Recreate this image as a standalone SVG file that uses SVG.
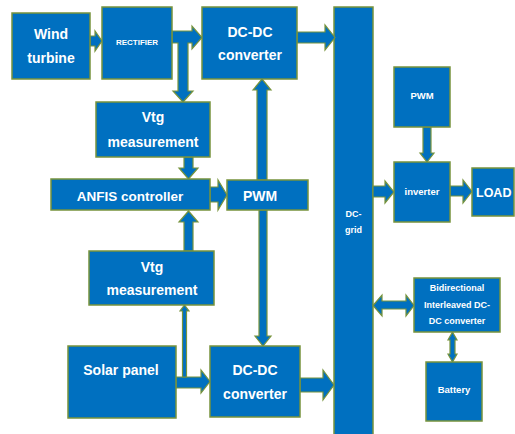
<svg xmlns="http://www.w3.org/2000/svg" width="515" height="434" viewBox="0 0 515 434">
<style>
.b{fill:#0070C0;stroke:#77933C;stroke-width:1.5}
.a{fill:#0070C0;stroke:#77933C;stroke-width:1.2;stroke-linejoin:miter}
text{fill:#fff;font-family:"Liberation Sans",Arial,sans-serif;font-weight:bold;text-anchor:middle}
.l{font-size:14px}
.s{font-size:9px}
</style>
<rect width="515" height="434" fill="#fff"/>
<g id="dc-grid"><rect class="b" x="334" y="7" width="39" height="440"/><text class="s" x="353.5" y="217">DC-</text><text class="s" x="353.5" y="233">grid</text></g>
<g id="connectors">
<polygon class="a" points="90,36 95,36 95,31 102,41 95,51 95,46 90,46"/>
<polygon class="a" points="172,31 192,31 192,26 202,37.5 192,49 192,43 188,43 188,91 193,91 183,102 173,91 178,91 178,43 172,43"/>
<polygon class="a" points="184,157 193,157 193,168 198,168 188.5,179 179,168 184,168"/>
<polygon class="a" points="210,187 218,187 218,180 227,195 218,210 218,202 210,202"/>
<polygon class="a" points="257,180 257,90 253,90 262,79 271,90 267,90 267,180"/>
<polygon class="a" points="259,210 267,210 267,336 271,336 263,346 255,336 259,336"/>
<polygon class="a" points="184,251 184,222 179,222 188.5,211 198,222 193,222 193,251"/>
<polygon class="a" points="176,377 201,377 201,370 210,381.5 201,393 201,388 176,388"/>
<polygon class="a" points="182.5,377 182.5,311 180,311 184.5,305 189,311 186.5,311 186.5,377"/>
<polygon class="a" points="300,378 323,378 323,370 334,385 323,400 323,392 300,392"/>
<polygon class="a" points="297,32 325,32 325,25 335,37.5 325,50 325,43 297,43"/>
<polygon class="a" points="373,186 385,186 385,181 394,192 385,203 385,197 373,197"/>
<polygon class="a" points="450,186 463,186 463,180 472,191.5 463,203 463,196 450,196"/>
<polygon class="a" points="423,127 431,127 431,153 434,153 427,162 420,153 423,153"/>
<polygon class="a" points="373,305.5 382,295 382,301 406,301 406,295 414,305.5 406,316 406,309 382,309 382,316"/>
<polygon class="a" points="452.5,332 457,340 455,340 455,354 457,354 452.5,362 448,354 450,354 450,340 448,340"/>
</g>
<g id="wind-turbine"><rect class="b" x="12" y="13" width="78" height="66"/><text class="l" x="51" y="39">Wind</text><text class="l" x="51" y="63">turbine</text></g>
<g id="rectifier"><rect class="b" x="102" y="7" width="70" height="72"/><text style="font-size:8px" x="137" y="45">RECTIFIER</text></g>
<g id="dcdc-top"><rect class="b" x="202" y="7" width="95" height="72"/><text class="l" x="250" y="37">DC-DC</text><text class="l" x="250" y="60">converter</text></g>
<g id="vtg-top"><rect class="b" x="96" y="102" width="114" height="55"/><text class="l" x="153" y="122">Vtg</text><text class="l" x="153" y="147">measurement</text></g>
<g id="anfis"><rect class="b" x="51" y="179" width="159" height="31"/><text style="font-size:13.5px" x="130" y="201">ANFIS  controller</text></g>
<g id="pwm-mid"><rect class="b" x="227" y="180" width="81" height="30"/><text class="l" x="260" y="201">PWM</text></g>
<g id="vtg-bottom"><rect class="b" x="89" y="251" width="125" height="54"/><text class="l" x="152" y="272">Vtg</text><text class="l" x="152" y="295">measurement</text></g>
<g id="solar"><rect class="b" x="68" y="346" width="108" height="72"/><text class="l" x="121" y="375">Solar panel</text></g>
<g id="dcdc-bottom"><rect class="b" x="210" y="346" width="90" height="71"/><text class="l" x="255" y="375">DC-DC</text><text class="l" x="255" y="399">converter</text></g>
<g id="pwm-right"><rect class="b" x="394" y="67" width="56" height="60"/><text style="font-size:9.5px" x="422" y="99">PWM</text></g>
<g id="inverter"><rect class="b" x="394" y="162" width="56" height="60"/><text style="font-size:9.5px" x="422" y="195">inverter</text></g>
<g id="load"><rect class="b" x="472" y="168" width="42" height="48"/><text style="font-size:12.5px;text-anchor:start" x="476" y="197">LOAD</text></g>
<g id="bidirectional"><rect class="b" x="414" y="278" width="86" height="54"/><text class="s" x="457" y="291">Bidirectional</text><text class="s" x="457" y="308">Interleaved DC-</text><text class="s" x="457" y="324">DC converter</text></g>
<g id="battery"><rect class="b" x="426" y="362" width="56" height="59"/><text style="font-size:9.5px" x="454" y="393">Battery</text></g>
</svg>
